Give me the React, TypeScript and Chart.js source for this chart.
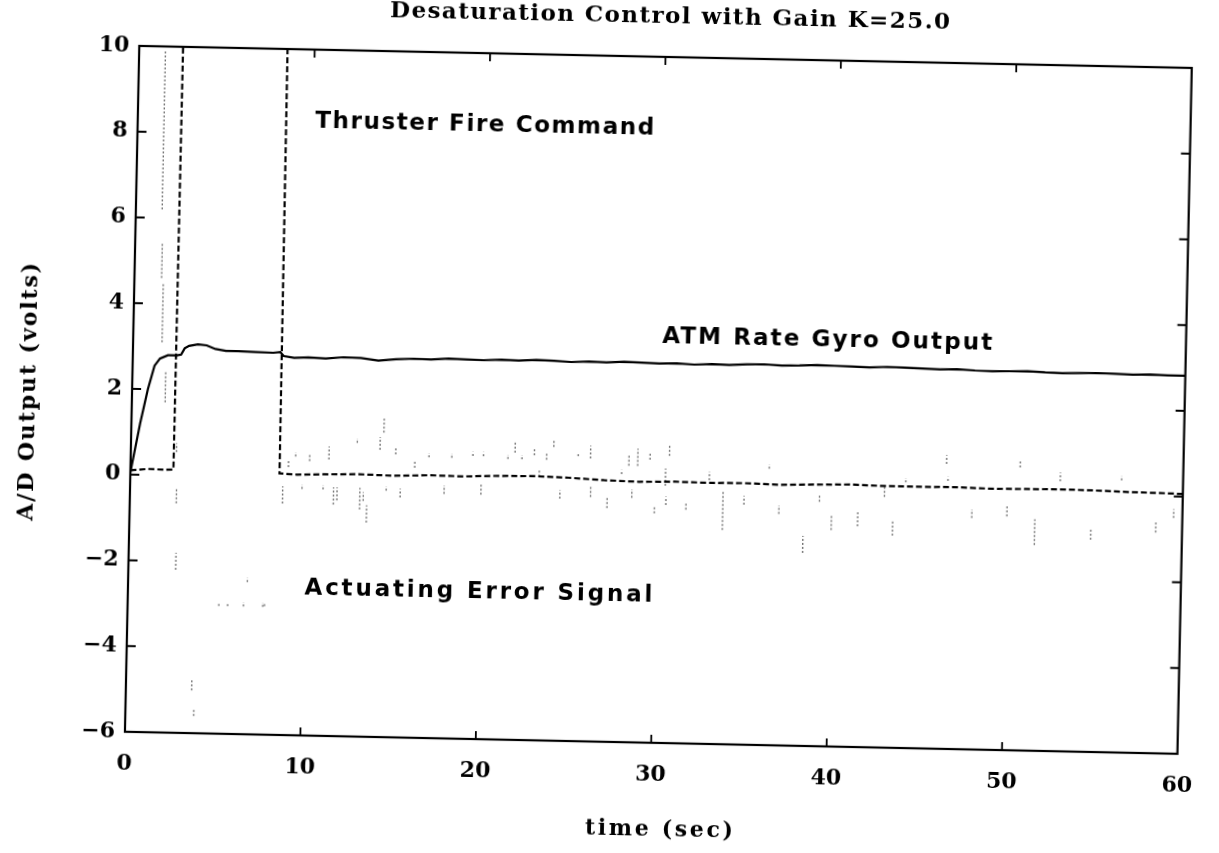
import React, { useEffect, useRef } from 'react';
import { Chart, registerables } from 'chart.js';

Chart.register(...registerables);

// ---------- text ----------
const TITLE = 'Desaturation Control with Gain K=25.0';
const X_TITLE = 'time (sec)';
const Y_TITLE = 'A/D Output (volts)';

// ---------- tick labels ----------
const xTicks = [0, 10, 20, 30, 40, 50, 60];
const yTicks = [-6, -4, -2, 0, 2, 4, 6, 8, 10];

// ---------- ATM rate gyro output (solid) ----------
const gyroT = [0, 0.5, 0.9, 1.25, 1.55, 2.0, 2.5, 2.75, 2.95, 3.2,
  3.7, 4.2, 4.7, 5.3, 6.0, 7.0, 8.0, 8.4, 8.6, 9.2,
  10, 11, 12, 13, 14, 15, 16, 17, 18, 19, 20, 21, 22, 23, 24, 25, 26, 27, 28, 29,
  30, 31, 32, 33, 34, 35, 36, 37, 38, 39, 40, 41, 42, 43, 44, 45, 46, 47, 48, 49,
  50, 51, 52, 53, 54, 55, 56, 57, 58, 59, 60];
const gyroV = [0.05, 1.2, 2.0, 2.55, 2.72, 2.8, 2.8, 2.82, 2.97, 3.03,
  3.07, 3.05, 2.97, 2.93, 2.93, 2.92, 2.91, 2.93, 2.84, 2.8,
  2.82, 2.8, 2.84, 2.83, 2.78, 2.82, 2.84, 2.83, 2.86, 2.85, 2.84, 2.86, 2.85, 2.87, 2.86, 2.84, 2.86, 2.85, 2.87, 2.86,
  2.85, 2.86, 2.84, 2.86, 2.85, 2.87, 2.88, 2.86, 2.87, 2.89, 2.88, 2.87, 2.86, 2.88, 2.87, 2.86, 2.85, 2.86, 2.84, 2.83,
  2.84, 2.85, 2.83, 2.82, 2.83, 2.84, 2.83, 2.82, 2.83, 2.82, 2.82];

// ---------- thruster fire command (dashed) ----------
const thrT = [0, 1, 2, 2.45, 2.5, 8.45, 8.5, 9.5,
  11, 13, 15, 17, 19, 21, 23, 25, 27, 29, 31, 33, 35, 37, 39, 41, 43, 45, 47, 49, 51, 53, 55, 57, 59, 60];
const thrV = [0.1, 0.14, 0.13, 0.14, 10.6, 10.6, 0.1, 0.08,
  0.1, 0.12, 0.1, 0.13, 0.12, 0.15, 0.16, 0.14, 0.1, 0.08, 0.1, 0.09, 0.1, 0.08, 0.1, 0.12, 0.1, 0.1, 0.11, 0.09, 0.1, 0.11, 0.1, 0.08, 0.07, 0.06];

// ---------- actuating error signal (sparse dotted spikes: low / high per sample) ----------
const errT = [1.5, 1.55, 1.65, 1.9, 2.6, 2.65, 2.7, 3.75, 3.9, 5.2, 5.7, 6.6, 6.8, 7.7, 7.8,
  8.7, 9.0, 9.4, 9.8, 10.2, 11.0, 11.3, 11.6, 11.8, 12.9, 13.1, 13.3, 13.5, 14.2, 14.4, 14.6,
  15.1, 15.4, 16.2, 17.0, 17.9, 18.3, 19.5, 20.0, 20.1, 21.5, 21.9, 22.3, 23.0, 23.3, 23.7, 24.1, 24.5,
  25.5, 26.2, 26.25, 27.2, 28.0, 28.4, 28.6, 28.9, 29.6, 29.9, 30.5, 30.55, 30.7, 31.7, 33.0, 33.8, 35.0,
  36.4, 37.0, 38.4, 39.3, 40.0, 41.5, 43.0, 43.5, 44.2, 46.5, 46.6, 48.0, 50.0, 50.7, 51.6, 53.0,
  54.8, 56.5, 58.5, 59.5, 60.0];
const errLo = [6.2, 4.6, 3.1, 1.7, 0.55, -0.65, -2.2, -5.0, -5.6, -3.02, -3.02, -3.02, -2.45, -3.02, -3.0,
  -0.6, 0.25, 0.5, -0.25, 0.4, -0.25, 0.45, -0.6, -0.5, 0.85, -0.7, -0.5, -1.0, 0.7, 1.1, -0.25,
  0.6, -0.4, 0.3, 0.55, -0.3, 0.55, 0.6, -0.3, 0.6, 0.55, 0.7, 0.55, 0.65, 0.15, 0.55, 0.85, -0.35,
  0.65, 0.6, -0.3, -0.55, 0.25, 0.45, -0.3, 0.45, 0.6, -0.65, 0.0, -0.45, 0.7, -0.55, 0.15, -1.0, -0.4,
  0.45, -0.6, -1.5, -0.3, -0.95, -0.85, -0.15, -1.05, 0.2, 0.65, 0.25, -0.6, -0.55, 0.6, -1.2, 0.3,
  -1.05, 0.35, -0.85, -0.5, -1.0];
const errHi = [9.9, 5.4, 4.5, 2.4, 0.75, -0.3, -1.8, -4.75, -5.45, -2.95, -2.96, -2.92, -2.35, -2.92, -2.92,
  -0.2, 0.4, 0.6, -0.15, 0.55, -0.15, 0.75, -0.2, -0.2, 0.95, -0.2, -0.3, -0.6, 1.0, 1.45, -0.15,
  0.78, -0.2, 0.45, 0.65, -0.1, 0.65, 0.7, -0.05, 0.7, 0.65, 0.95, 0.65, 0.8, 0.3, 0.7, 1.0, -0.15,
  0.72, 0.9, -0.05, -0.3, 0.35, 0.7, -0.1, 0.85, 0.75, -0.5, 0.4, -0.25, 0.95, -0.4, 0.35, -0.1, -0.2,
  0.55, -0.4, -1.1, -0.15, -0.6, -0.5, 0.1, -0.7, 0.3, 0.85, 0.35, -0.4, -0.3, 0.75, -0.6, 0.5,
  -0.8, 0.45, -0.6, -0.3, -0.7];

// ---------- in-plot annotations (anchored in data units) ----------
const ANNOTATIONS = [
  { text: 'Thruster Fire Command', t: 10.12, v: 8.33, width: 339 },
  { text: 'ATM Rate Gyro Output', t: 30.15, v: 3.48, width: 330 },
  { text: 'Actuating Error Signal', t: 10.06, v: -2.57, width: 348 },
];

const SERIF = '"DejaVu Serif", "Liberation Serif", serif';
const SANS = '"DejaVu Sans", "Liberation Sans", sans-serif';

function fitText(ctx: CanvasRenderingContext2D, text: string, x: number, y: number,
  font: string, width: number, align: 'left' | 'center') {
  ctx.save();
  ctx.font = font;
  (ctx as any).letterSpacing = '0px';
  const w0 = ctx.measureText(text).width;
  const sp = (width - w0) / Math.max(1, text.length - 1);
  (ctx as any).letterSpacing = sp.toFixed(2) + 'px';
  ctx.textBaseline = 'middle';
  ctx.textAlign = 'left';
  ctx.fillStyle = '#000';
  ctx.fillText(text, align === 'center' ? x - width / 2 : x, y);
  ctx.restore();
}

const framePlugin = {
  id: 'frame',
  afterDraw(chart: any) {
    const ctx: CanvasRenderingContext2D = chart.ctx;
    const { left, right, top, bottom } = chart.chartArea;
    const xs = chart.scales.x;
    const ys = chart.scales.y;
    ctx.save();
    ctx.strokeStyle = '#000';
    ctx.lineWidth = 2.2;
    ctx.strokeRect(left, top, right - left, bottom - top);
    ctx.lineWidth = 1.8;
    ctx.beginPath();
    xTicks.forEach((v) => {
      if (v === xTicks[0] || v === xTicks[xTicks.length - 1]) return;
      const px = xs.getPixelForValue(v);
      ctx.moveTo(px, bottom); ctx.lineTo(px, bottom - 8);
      ctx.moveTo(px, top); ctx.lineTo(px, top + 8);
    });
    yTicks.forEach((v) => {
      if (v === yTicks[0] || v === yTicks[yTicks.length - 1]) return;
      const py = ys.getPixelForValue(v);
      ctx.moveTo(left, py); ctx.lineTo(left + 9, py);
      ctx.moveTo(right, py); ctx.lineTo(right - 9, py);
    });
    ctx.stroke();
    ctx.restore();

    // titles
    fitText(ctx, TITLE, 662, 17, `bold 23px ${SERIF}`, 560, 'center');
    fitText(ctx, X_TITLE, 668, 830, `bold 22px ${SERIF}`, 148, 'center');
    ctx.save();
    ctx.translate(29, 405);
    ctx.rotate(-Math.PI / 2);
    fitText(ctx, Y_TITLE, 0, 0, `bold 22px ${SERIF}`, 258, 'center');
    ctx.restore();

    ANNOTATIONS.forEach((a) => {
      fitText(ctx, a.text, xs.getPixelForValue(a.t), ys.getPixelForValue(a.v),
        `bold 23px ${SANS}`, a.width, 'left');
    });
  },
};

export default function App() {
  const ref = useRef<HTMLCanvasElement | null>(null);

  useEffect(() => {
    const canvas = ref.current;
    if (!canvas) return;

    const gyro = gyroT.map((t, i) => ({ x: t, y: gyroV[i] }));
    const thr = thrT.map((t, i) => ({ x: t, y: thrV[i] }));
    const err: { x: number; y: number | null }[] = [];
    errT.forEach((t, i) => {
      err.push({ x: t, y: errLo[i] }, { x: t, y: errHi[i] }, { x: t, y: null });
    });

    const tickFont = { family: SERIF, size: 22, weight: 'bold' as const };

    const chart = new Chart(canvas, {
      type: 'line',
      data: {
        datasets: [
          {
            label: 'ATM Rate Gyro Output',
            data: gyro,
            borderColor: '#000',
            borderWidth: 2.2,
            pointRadius: 0,
            tension: 0,
          },
          {
            label: 'Thruster Fire Command',
            data: thr,
            borderColor: '#000',
            borderWidth: 2.2,
            borderDash: [6, 3],
            pointRadius: 0,
            tension: 0,
          },
          {
            label: 'Actuating Error Signal',
            data: err as any,
            borderColor: 'rgba(0,0,0,0.55)',
            borderWidth: 1.4,
            borderDash: [2, 2],
            pointRadius: 0,
            tension: 0,
            spanGaps: false,
          },
        ],
      },
      options: {
        responsive: false,
        animation: false,
        events: [],
        layout: { padding: { left: 0, top: 57, right: 21, bottom: 0 } },
        plugins: {
          legend: { display: false },
          tooltip: { enabled: false },
          title: { display: false },
        },
        scales: {
          x: {
            type: 'linear',
            min: 0,
            max: 60,
            afterBuildTicks: (s: any) => { s.ticks = xTicks.map((v) => ({ value: v })); },
            afterFit: (s: any) => { s.height = 110; },
            ticks: {
              font: tickFont,
              color: '#000',
              padding: 19,
              maxRotation: 0,
              autoSkip: false,
            },
            grid: { drawOnChartArea: false, drawTicks: false, display: false },
            border: { display: false },
          },
          y: {
            type: 'linear',
            min: -6,
            max: 10,
            afterBuildTicks: (s: any) => { s.ticks = yTicks.map((v) => ({ value: v })); },
            afterFit: (s: any) => { s.width = 132; },
            ticks: {
              font: tickFont,
              color: '#000',
              padding: 10,
              autoSkip: false,
              callback: (v: any) => (Number(v) < 0 ? '\u2212' + Math.abs(Number(v)) : String(v)),
            },
            grid: { drawOnChartArea: false, drawTicks: false, display: false },
            border: { display: false },
          },
        },
      },
      plugins: [framePlugin],
    });

    return () => chart.destroy();
  }, []);

  return (
    <div
      style={{
        position: 'fixed',
        left: 0,
        top: 0,
        width: 1219,
        height: 853,
        background: '#fff',
        transform: 'rotate(1.2deg)',
        transformOrigin: '665px 400px',
      }}
    >
      <canvas ref={ref} width={1219} height={853} style={{ width: 1219, height: 853, display: 'block' }} />
    </div>
  );
}
